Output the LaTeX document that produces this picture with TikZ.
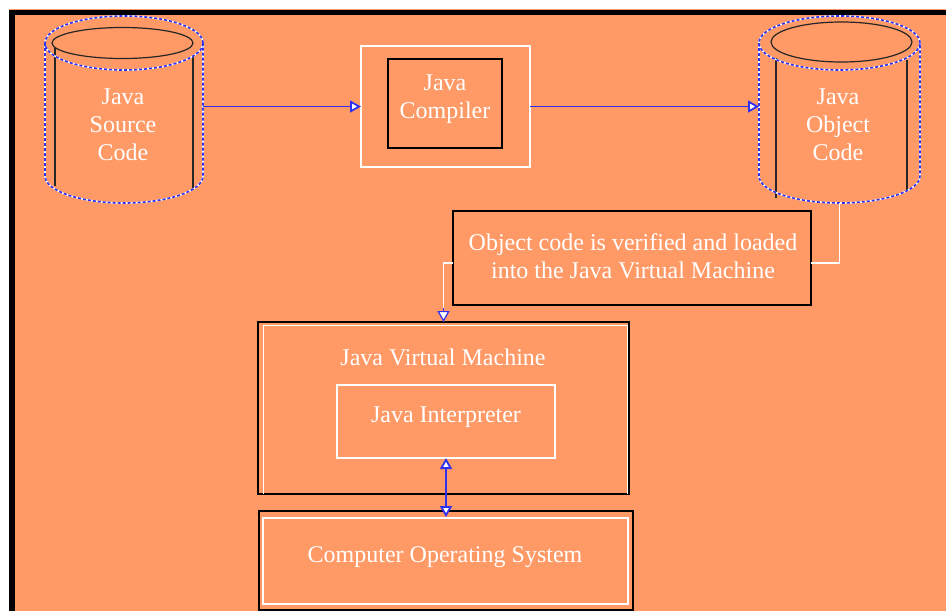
\documentclass[tikz,border=0pt]{standalone}
\usepackage{fontspec}
\setmainfont{Liberation Serif}
\usetikzlibrary{arrows.meta}
\definecolor{bg}{HTML}{FF9966}
\definecolor{lnblue}{HTML}{3030F0}
\begin{document}
\begin{tikzpicture}[x=1pt,y=-1pt,
  lbl/.style={text=white, font=\fontsize{24}{28}\selectfont, align=center, inner sep=0pt},
  blackbox/.style={draw=black, line width=1.5pt, inner sep=0pt, outer sep=0pt},
  whitebox/.style={draw=white, line width=1.5pt, inner sep=0pt, outer sep=0pt},
  holder/.style={inner sep=0pt, outer sep=0pt},
  bluelink/.style={draw=lnblue, line width=1.8pt},
  whitelink/.style={draw=white, line width=1.5pt},
  tipw/.style={-{Triangle[width=12pt,length=11pt,fill=white]}},
  cylwhite/.style={draw=white, line width=1.6pt},
  cylblue/.style={draw=lnblue, line width=1.6pt, dash pattern=on 3pt off 2pt},
  cylin/.style={draw=black!85, line width=1.2pt}
]
\useasboundingbox (0,0) rectangle (946,611);
% background
\fill[white] (0,0) rectangle (946,611);
\fill[bg] (9,8.5) rectangle (946,10);
\fill[black] (9,10) rectangle (946,611);
\fill[bg] (15,15) rectangle (946,611);

% ---------- Java Source Code cylinder ----------
\node[holder, minimum width=158pt, minimum height=187pt] (src) at (124,109.5) {};
\draw[cylin] (122.5,43) ellipse [x radius=70.5pt, y radius=15.5pt];
\draw[cylin] (55,48) -- (55,186);
\draw[cylin] (193,57) -- (193,190);
\foreach \s in {cylwhite,cylblue}{
  \draw[\s] (124,43) ellipse [x radius=79pt, y radius=27pt];
  \draw[\s] (45,43) -- (45,176) arc[start angle=180, end angle=360, x radius=79pt, y radius=27pt] -- (203,43);
}
\node[lbl] (srct) at (123,125) {Java\\Source\\Code};

% ---------- Java Compiler ----------
\node[whitebox, minimum width=169pt, minimum height=121pt] (comp) at (445.5,106.5) {};
\node[blackbox, minimum width=114pt, minimum height=89pt] (compin) at (445,103.5) {};
\node[lbl] (compt) at (445,99) {Java\\Compiler};

% ---------- Java Object Code cylinder ----------
\node[holder, minimum width=161pt, minimum height=187pt] (obj) at (839.5,109.5) {};
\draw[cylin] (841.5,42) ellipse [x radius=70.5pt, y radius=20pt];
\draw[cylin] (776,58) -- (776,198);
\draw[cylin] (907,60) -- (907,190);
\foreach \s in {cylwhite,cylblue}{
  \draw[\s] (839.5,43) ellipse [x radius=80.5pt, y radius=27pt];
  \draw[\s] (759,43) -- (759,176) arc[start angle=180, end angle=360, x radius=80.5pt, y radius=27pt] -- (920,43);
}
\node[lbl] (objt) at (838,125) {Java\\Object\\Code};

% ---------- verification note ----------
\node[blackbox, minimum width=358pt, minimum height=94pt] (note) at (632,258) {};
\node[lbl] (notet) at (633,256) {Object code is verified and loaded\\into the Java Virtual Machine};

% ---------- JVM ----------
\node[blackbox, minimum width=371pt, minimum height=172pt] (jvm) at (443.5,408) {};
\draw[white, line width=1.5pt] (263.5,494) -- (263.5,325.5) -- (627.5,325.5) -- (627.5,494);
\node[lbl] (jvmt) at (443,357) {Java Virtual Machine};
\node[whitebox, minimum width=218pt, minimum height=73pt] (interp) at (446,421.5) {};
\node[lbl] (interpt) at (446,417) {Java Interpreter};

% ---------- OS ----------
\node[blackbox, minimum width=374pt, minimum height=99pt] (os) at (446,560.5) {};
\node[whitebox, minimum width=365pt, minimum height=86pt] (osin) at (445.5,561) {};
\node[lbl] (ost) at (445,557) {Computer Operating System};

% ---------- connectors ----------
\draw[bluelink, tipw] (src.east |- comp.west) -- (comp.west);
\draw[bluelink, tipw] (comp.east) -- (obj.west |- comp.east);
\draw[whitelink] (obj.south) |- ([yshift=-5pt]note.east);
\draw[whitelink] ([yshift=-5pt]note.west) -| (jvm.north);
\draw[draw=lnblue, line width=1.2pt, tipw] ([yshift=14pt]jvm.north) -- (jvm.north);
\draw[bluelink, {Triangle[width=12pt,length=11pt,fill=white]}-{Triangle[width=12pt,length=11pt,fill=white]}] (interp.south) -- ([yshift=-6pt]os.north);
\end{tikzpicture}
\end{document}
